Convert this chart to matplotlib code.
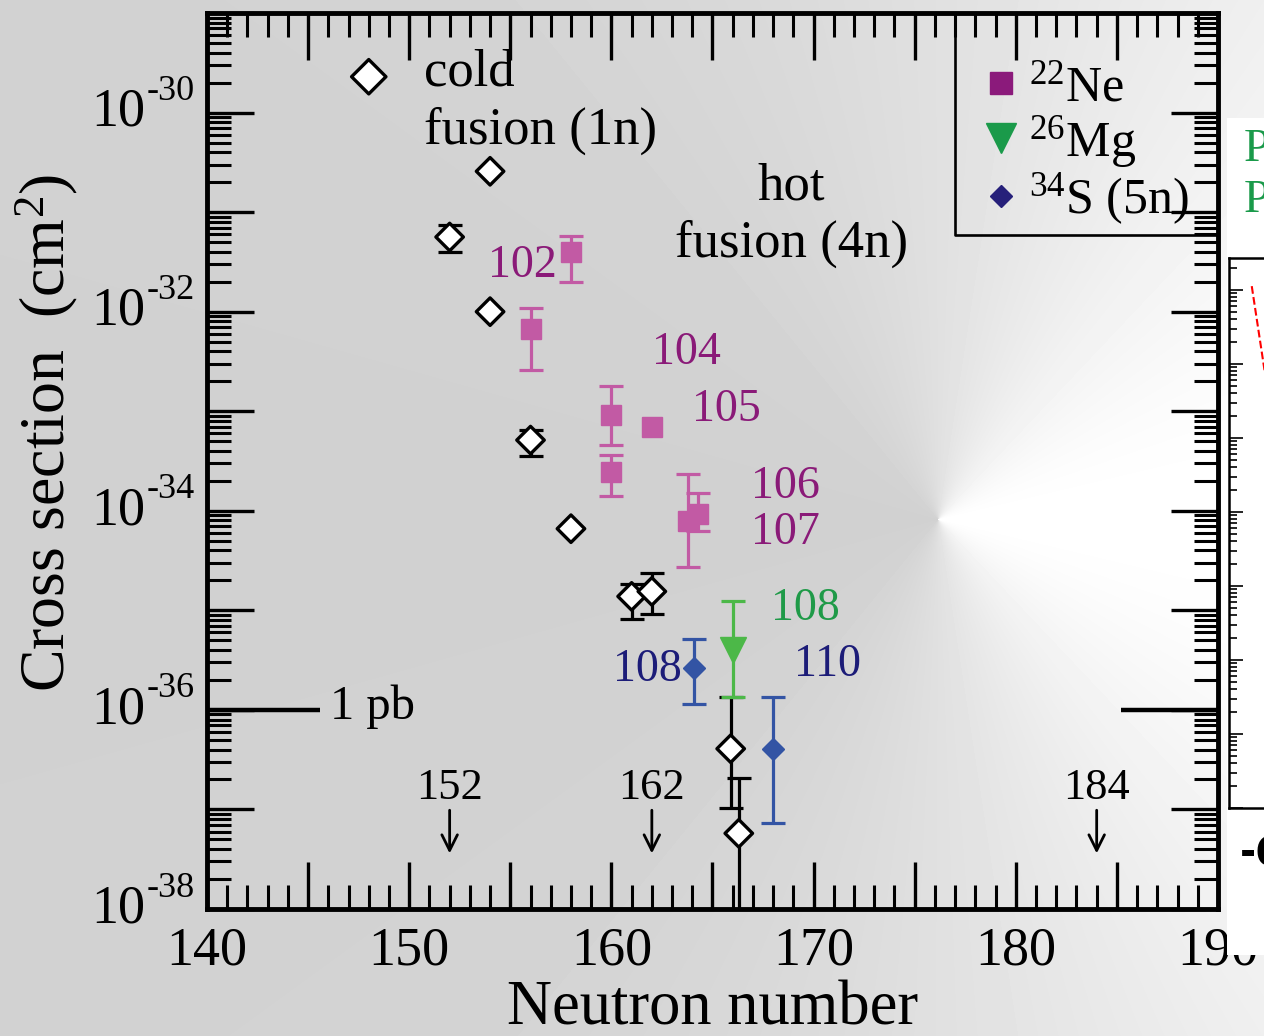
import matplotlib
matplotlib.use('Agg')
import matplotlib.pyplot as plt
import numpy as np
from matplotlib import ticker
from matplotlib.lines import Line2D
from matplotlib.patches import Rectangle

plt.rcParams['font.family'] = ['Liberation Serif', 'DejaVu Serif']
plt.rcParams['mathtext.fontset'] = 'custom'
plt.rcParams['mathtext.rm'] = 'Liberation Serif'
plt.rcParams['mathtext.it'] = 'Liberation Serif:italic'

# cold fusion (1n), white diamonds; values are log10(sigma / cm^2)
cold_N = [148, 154, 152, 154, 156, 158, 161, 162, 165.9, 166.3]
cold_log = [-29.64, -30.59, -31.25, -32.0, -33.29, -34.18, -34.86, -34.81, -36.39, -37.24]
cold_hi = [np.nan, np.nan, -31.13, np.nan, -33.19, np.nan, -34.74, -34.62, -35.87, -36.68]
cold_lo = [np.nan, np.nan, -31.40, np.nan, -33.45, np.nan, -35.09, -35.04, -36.99, -39.5]

# hot fusion 22Ne
ne_N = [158, 156, 160, 160, 162, 163.8, 164.3]
ne_log = [-31.40, -32.17, -33.04, -33.61, -33.16, -34.10, -34.03]
ne_hi = [-31.24, -31.96, -32.75, -33.44, np.nan, -33.63, -33.82]
ne_lo = [-31.70, -32.59, -33.34, -33.85, np.nan, -34.56, -34.20]

# 26Mg
mg_N = [166]
mg_log = [-35.40]
mg_hi = [-34.91]
mg_lo = [-35.87]

# 34S (5n)
s_N = [164.1, 168]
s_log = [-35.58, -36.39]
s_hi = [-35.29, -35.87]
s_lo = [-35.94, -37.14]

# element labels (Z)
lab_text = ['102', '104', '105', '106', '107', '108', '108', '110']
lab_N = [157.3, 163.7, 165.7, 168.6, 168.6, 169.6, 161.8, 170.7]
lab_log = [-31.54, -32.41, -32.99, -33.76, -34.22, -34.98, -35.60, -35.55]
lab_col = ['#8a1a78'] * 5 + ['#1f9a48', '#1c1c78', '#1c1c78']
lab_ha = ['right', 'center', 'center', 'center', 'center', 'center', 'center', 'center']

# shell closures
shell_N = [152, 162, 184]

# labelled decades on the y axis
y_label_exp = [-38, -36, -34, -32, -30]

c_ne, c_mg, c_s = '#c25aa4', '#4cb848', '#3354a4'

fig = plt.figure(figsize=(12.64, 10.36), dpi=100)

# conic gray background
H, W = 1036, 1264
yy, xx = np.mgrid[0:H, 0:W]
th = np.arctan2(-(yy - 519.0), xx - 938.0)
bg = 0.82 + 0.18 * ((1 + np.cos(th)) / 2) ** 1.6
bax = fig.add_axes([0, 0, 1, 1], zorder=-10)
bax.imshow(bg, cmap='gray', vmin=0, vmax=1, aspect='auto', interpolation='bilinear')
bax.axis('off')

ax = fig.add_axes([207 / W, 1 - 909 / H, (1218 - 207) / W, (909 - 13) / H])
ax.set_facecolor('none')
ax.set_yscale('log')
ax.set_xlim(140, 190)
ax.set_ylim(1e-38, 1e-29)


def pw(a):
    return 10 ** np.asarray(a, dtype=float)


def errs(v, hi, lo):
    v, hi, lo = pw(v), pw(hi), pw(lo)
    m = ~np.isnan(hi)
    return m, np.vstack([v[m] - lo[m], hi[m] - v[m]])


ebkw = dict(fmt='none', elinewidth=2.3, capsize=8.5, capthick=2.3, zorder=3)

m, e = errs(cold_log, cold_hi, cold_lo)
ax.errorbar(np.array(cold_N)[m], pw(cold_log)[m], yerr=e, ecolor='black', **ebkw)
sizes = [17.5 ** 2] + [14 ** 2] * (len(cold_N) - 1)
ax.scatter(cold_N, pw(cold_log), s=sizes, marker='D', facecolor='white',
           edgecolor='black', linewidth=2.4, zorder=5)

m, e = errs(ne_log, ne_hi, ne_lo)
ax.errorbar(np.array(ne_N)[m], pw(ne_log)[m], yerr=e, ecolor=c_ne, **ebkw)
ax.plot(ne_N, pw(ne_log), 's', ms=14, color=c_ne, mec=c_ne, zorder=4, ls='none')

m, e = errs(mg_log, mg_hi, mg_lo)
ax.errorbar(np.array(mg_N)[m], pw(mg_log)[m], yerr=e, ecolor=c_mg, **ebkw)
ax.plot(mg_N, pw(mg_log), 'v', ms=19, color=c_mg, zorder=4, ls='none')

m, e = errs(s_log, s_hi, s_lo)
ax.errorbar(np.array(s_N)[m], pw(s_log)[m], yerr=e, ecolor=c_s, **ebkw)
ax.plot(s_N, pw(s_log), 'D', ms=11.5, color=c_s, zorder=4, ls='none')

for t, n, lg, c, ha in zip(lab_text, lab_N, lab_log, lab_col, lab_ha):
    ax.text(n, 10 ** lg, t, color=c, ha=ha, va='center', fontsize=33)

ax.text(150.75, 10 ** -29.6, 'cold', fontsize=38, va='center', ha='left')
ax.text(150.75, 10 ** -30.18, 'fusion (1n)', fontsize=38, va='center', ha='left')
ax.text(168.9, 10 ** -30.74, 'hot', fontsize=38, va='center', ha='center')
ax.text(168.9, 10 ** -31.32, 'fusion (4n)', fontsize=38, va='center', ha='center')

# 1 pb level
ax.plot([140, 145.6], [1e-36, 1e-36], color='black', lw=3.2, solid_capstyle='butt')
ax.plot([185.2, 190], [1e-36, 1e-36], color='black', lw=3.2, solid_capstyle='butt')
ax.text(146.1, 10 ** -35.97, '1 pb', fontsize=35, va='center', ha='left')

for n in shell_N:
    ax.text(n, 10 ** -36.78, str(n), fontsize=32, ha='center', va='center')
    ax.annotate('', xy=(n, 10 ** -37.47), xytext=(n, 10 ** -36.98),
                arrowprops=dict(arrowstyle='->', lw=2.0, color='black', mutation_scale=28))

# ticks
ax.xaxis.set_major_locator(ticker.MultipleLocator(5))
ax.xaxis.set_minor_locator(ticker.MultipleLocator(1))
ax.xaxis.set_major_formatter(ticker.FuncFormatter(
    lambda v, p: '%d' % v if abs(v % 10) < 1e-6 else ''))
ax.yaxis.set_major_locator(ticker.LogLocator(base=10, numticks=30))
ax.yaxis.set_minor_locator(ticker.LogLocator(base=10, subs=np.arange(2, 10), numticks=30))
ax.yaxis.set_major_formatter(ticker.NullFormatter())
ax.yaxis.set_minor_formatter(ticker.NullFormatter())
ax.tick_params(which='both', direction='in', top=True, right=True)
ax.tick_params(which='major', length=34, width=2.4, labelsize=39)
ax.tick_params(which='minor', length=17, width=2.2)
ax.tick_params(axis='x', which='major', pad=12)
for sp in ax.spines.values():
    sp.set_linewidth(3.5)

# y tick labels: "10" with a small raised exponent
ytr = ax.get_yaxis_transform()
for ex in y_label_exp:
    ax.text(-0.0613, 10 ** ex, '10', transform=ytr, ha='right', va='center',
            fontsize=39, clip_on=False)
    ax.text(-0.0598, 10 ** (ex + 0.21), '-%d' % abs(ex), transform=ytr, ha='left',
            va='center', fontsize=26, clip_on=False)

ax.set_xlabel('Neutron number', fontsize=45, labelpad=3)
ax.set_ylabel(r'Cross section  (cm$\mathregular{^2}$)', fontsize=46)
ax.yaxis.set_label_coords(-0.126, 0.532)

# legend, frame drawn as two lines
handles = [Line2D([], [], marker='s', ms=16.5, color='#8b1a7b', ls='none'),
           Line2D([], [], marker='v', ms=21, color='#1a9a4a', ls='none'),
           Line2D([], [], marker='D', ms=11.5, color='#26207a', ls='none')]
labels = [r'$\mathregular{^{22}Ne}$', r'$\mathregular{^{26}Mg}$', r'$\mathregular{^{34}S\ (5n)}$']
leg = ax.legend(handles, labels, loc='upper left', bbox_to_anchor=((968 - 207) / 1011, 0.953),
                borderaxespad=0, frameon=False, fontsize=36, handlelength=0.9,
                handletextpad=0.12, labelspacing=0.04, borderpad=0.2)
fx0 = (955 - 207) / 1011
fy0 = (909 - 235) / 896
ax.plot([fx0, fx0, 1.0], [1.0, fy0, fy0], transform=ax.transAxes, color='black',
        lw=1.9, clip_on=False, zorder=6)

# cropped neighbouring figure at the right edge
fig.add_artist(Rectangle((1227 / W, 1 - 955 / H), 60 / W, (955 - 118) / H,
                         transform=fig.transFigure, facecolor='white', edgecolor='none', zorder=5))
iax = fig.add_axes([1229 / W, 1 - 808 / H, 0.1, (808 - 258) / H], zorder=6)
iax.set_yscale('log')
iax.set_ylim(1e-7, 10 ** 0.43)
iax.set_xlim(0, 1)
iax.set_xticks([])
iax.yaxis.set_major_locator(ticker.LogLocator(base=10, numticks=30))
iax.yaxis.set_minor_locator(ticker.LogLocator(base=10, subs=np.arange(2, 10), numticks=30))
iax.yaxis.set_major_formatter(ticker.NullFormatter())
iax.yaxis.set_minor_formatter(ticker.NullFormatter())
iax.tick_params(which='both', direction='in', width=1.2)
iax.tick_params(which='major', length=10)
iax.tick_params(which='minor', length=6)
for sp in iax.spines.values():
    sp.set_linewidth(1.8)
iax.plot([0.3, 0.45], [10 ** 0.0, 10 ** -1.2], color='red', ls='--', lw=1.5)
iax.plot([0.18, 0.3], [10 ** 0.05, 10 ** -1.3], color='red', ls='--', lw=1.5)
fig.text(1244 / W, 1 - 150 / H, 'P', color='#1a9a4a', fontsize=34, va='center', ha='left', zorder=7)
fig.text(1244 / W, 1 - 201 / H, 'P', color='#1a9a4a', fontsize=34, va='center', ha='left', zorder=7)
fig.text(1240 / W, 1 - 855 / H, '-6', color='black', fontsize=28, fontweight='bold',
         family='DejaVu Sans', va='center', ha='left', zorder=7)

fig.savefig('out.png', dpi=100)
